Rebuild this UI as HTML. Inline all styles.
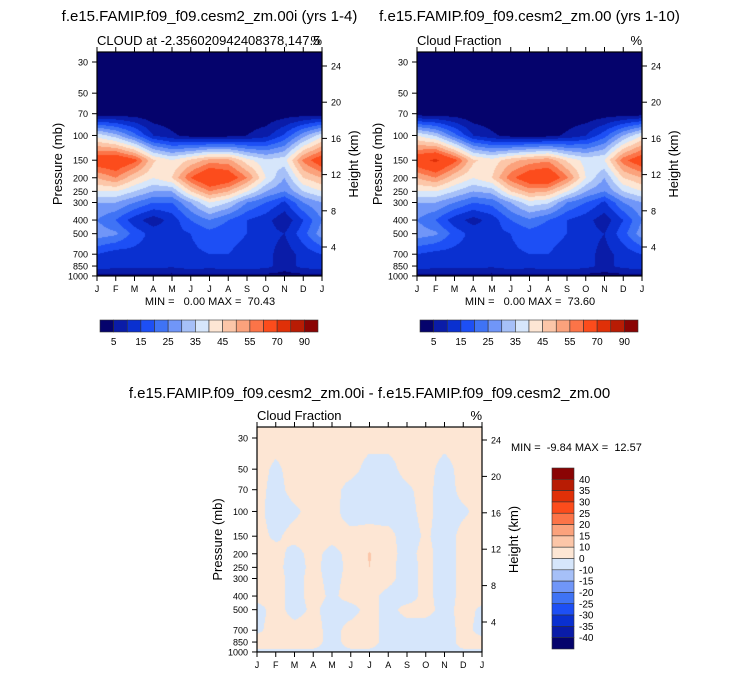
<!DOCTYPE html>
<html><head><meta charset="utf-8"><style>
body{margin:0;background:#fff;width:733px;height:675px;overflow:hidden;position:relative;font-family:"Liberation Sans",sans-serif}
canvas{position:absolute;left:0;top:0}
svg{position:absolute;left:0;top:0}
</style></head><body>
<canvas id="cv" width="733" height="675"></canvas>
<svg id="sv" width="733" height="675"></svg>
<script>
const months=['J','F','M','A','M','J','J','A','S','O','N','D','J'];
const levels=[30,50,70,100,150,200,250,300,400,500,700,850,1000];
const heightTicks=[24,20,16,12,8,4];
const colors=['#05036c','#0a1ca8','#0a30d0','#1d4ff5','#3f73f5','#7096f8','#a6c0f8','#d6e6fb','#fde6d4','#fcc6a8','#fba27c','#fc7448','#fc4c1c','#e03008','#b81c04','#8a0404'];
const bndAbs=[5,10,15,20,25,30,35,40,45,50,55,60,70,80,90];
const bndDiff=[-40,-35,-30,-25,-20,-15,-10,0,10,15,20,25,30,35,40];
const cloud1=[
[1,1,1,1,1,1,1,1,1,1,1,1,1],
[1,1,1,1,1,1,1,1,1,1,1,1,1],
[2,2,2,1,1,1,1,1,1,1,2,2,2],
[38,32,22,10,6,3,2,3,5,8,16,28,38],
[66,68,62,46,40,46,52,52,42,36,38,56,66],
[50,55,46,40,45,60,70,66,55,40,30,45,50],
[40,40,35,30,30,45,55,50,40,30,25,35,40],
[30,30,25,20,20,30,40,35,25,20,14,25,30],
[25,20,12,7,12,20,25,20,15,12,6,15,25],
[28,26,18,13,13,15,18,16,15,12,10,18,28],
[15,12,13,13,12,14,15,15,14,12,7,12,15],
[13,12,12,12,11,13,12,13,13,12,7,12,13],
[3,3,3,3,3,3,3,3,3,3,3,3,3]];
const cloud2=[
[1,1,1,1,1,1,1,1,1,1,1,1,1],
[1,1,1,1,1,1,1,1,1,1,1,1,1],
[2,2,2,1,1,1,1,1,1,1,2,2,2],
[40,34,22,10,6,3,2,3,6,10,18,30,40],
[66,72,62,46,42,48,52,54,44,38,40,58,66],
[50,55,46,40,45,58,66,68,56,40,30,45,50],
[40,40,35,30,32,45,52,50,40,30,25,35,40],
[30,30,25,20,22,30,38,36,25,20,14,25,30],
[25,20,12,8,12,20,24,20,15,12,7,15,25],
[28,26,18,13,13,15,18,16,15,12,10,18,28],
[15,13,13,13,12,14,15,15,14,12,8,12,15],
[13,12,12,12,11,13,12,13,13,12,8,12,13],
[3,3,3,3,3,3,3,3,3,3,3,3,3]];
const diffv=[
[2,2,2,2,2,2,2,2,2,2,2,2,2],
[2,-1,2,2,2,2,-2,-2,2,2,-2,2,2],
[2,-2,2,2,2,-2,-3,-3,-1,2,-3,2,2],
[2,-3,-1,2,2,-3,-2,-3,-2,2,-3,-1,2],
[2,-1,2,2,2,2,2,2,-3,1,-3,2,2],
[2,2,-2,2,-2,2,11,2,-2,2,-3,2,2],
[2,2,-3,2,-3,2,10,2,-3,2,-3,2,2],
[2,2,-2,2,-2,2,4,2,-3,2,-3,2,2],
[2,2,-2,2,-1,2,2,-2,-3,2,-3,2,2],
[-2,2,-2,1,-2,-2,2,-2,2,2,-2,2,-1],
[-1,2,2,2,-2,2,2,-2,-3,-3,-3,2,-2],
[2,2,2,2,-2,2,2,-2,-3,-3,-3,2,2],
[-1,-1,-1,-1,-1,-1,-1,-1,-1,-1,-1,-1,-1]];

const NS='http://www.w3.org/2000/svg';
const sv=document.getElementById('sv');
const ctx=document.getElementById('cv').getContext('2d');
function el(tag,attrs,txt){const e=document.createElementNS(NS,tag);for(const k in attrs)e.setAttribute(k,attrs[k]);if(txt!==undefined)e.textContent=txt;sv.appendChild(e);return e;}
function hex(c){return [parseInt(c.slice(1,3),16),parseInt(c.slice(3,5),16),parseInt(c.slice(5,7),16)];}
const rgb=colors.map(hex);
const DEC=140.5;
function yOf(p,y30){return y30+(Math.log10(p)-Math.log10(30))*DEC;}
function colorIdx(v,b){let i=0;while(i<b.length&&v>=b[i])i++;return i;}

function panel(c){
  const x0=c.x0,x1=c.x1,y30=c.y30,top=c.top,bot=yOf(1000,y30);
  const mx=m=>x0+m*(x1-x0)/12;
  const ly=levels.map(p=>yOf(p,y30));
  const W=Math.round(x1-x0),H=Math.round(bot-top);
  const img=ctx.createImageData(W,H);
  for(let j=0;j<H;j++){
    const y=top+j+0.5;
    let k=0;while(k<ly.length-2&&y>ly[k+1])k++;
    let ty=(y-ly[k])/(ly[k+1]-ly[k]);ty=Math.max(0,Math.min(1,ty));
    for(let i=0;i<W;i++){
      const fx=(i+0.5)/W*12;let m=Math.min(11,Math.floor(fx));const tx=fx-m;
      const d=c.data;
      const v=(d[k][m]*(1-tx)+d[k][m+1]*tx)*(1-ty)+(d[k+1][m]*(1-tx)+d[k+1][m+1]*tx)*ty;
      const col=rgb[colorIdx(v,c.bnd)];const o=(j*W+i)*4;
      img.data[o]=col[0];img.data[o+1]=col[1];img.data[o+2]=col[2];img.data[o+3]=255;
    }
  }
  ctx.putImageData(img,Math.round(x0),Math.round(top));
  let r=el('rect',{x:x0,y:top,width:x1-x0,height:bot-top,fill:'none',stroke:'#000','stroke-width':1.2});
  
  levels.forEach((p,i)=>{const y=yOf(p,y30);
    el('line',{x1:x0-5,x2:x0,y1:y,y2:y,stroke:'#000'});
    const t=el('text',{x:x0-9,y:y+3.5,'font-size':9,'text-anchor':'end'},p);
    });
  heightTicks.forEach(h=>{const y=c.hy(h);
    el('line',{x1:x1,x2:x1+5,y1:y,y2:y,stroke:'#000'});
    const t=el('text',{x:x1+9,y:y+3.5,'font-size':9},h);
    });
  months.forEach((m,i)=>{const x=mx(i);
    el('line',{x1:x,x2:x,y1:bot,y2:bot+5,stroke:'#000'});
    el('line',{x1:x,x2:x,y1:top,y2:top-5,stroke:'#000'});
    const t=el('text',{x:x,y:bot+16,'font-size':9,'text-anchor':'middle'},m);
    });
  let t=el('text',{x:x0-35,y:(top+bot)/2,'font-size':13,'text-anchor':'middle',transform:`rotate(-90 ${x0-35} ${(top+bot)/2})`},'Pressure (mb)');
  
  t=el('text',{x:x1+36,y:(top+bot)/2,'font-size':13,'text-anchor':'middle',transform:`rotate(-90 ${x1+36} ${(top+bot)/2})`},'Height (km)');
  
  t=el('text',{x:x0,y:top-7,'font-size':13},c.sub);
  
  t=el('text',{x:x1,y:top-7,'font-size':13,'text-anchor':'end'},'%');
  
  t=el('text',{x:(x0+x1)/2,y:c.tY,'font-size':15,'text-anchor':'middle'},c.title);
  
}
function hyTop(h){return 66+(24-h)*(247-66)/20;}
panel({id:'panel1',x0:97,x1:322,y30:62,top:52,data:cloud1,bnd:bndAbs,hy:hyTop,sub:'CLOUD at -2.356020942408378,147.5',title:'f.e15.FAMIP.f09_f09.cesm2_zm.00i (yrs 1-4)',tY:21});
panel({id:'panel2',x0:417,x1:642,y30:62,top:52,data:cloud2,bnd:bndAbs,hy:hyTop,sub:'Cloud Fraction',title:'f.e15.FAMIP.f09_f09.cesm2_zm.00 (yrs 1-10)',tY:21});
panel({id:'panel3',x0:257,x1:482,y30:438,top:427,data:diffv,bnd:bndDiff,hy:h=>440+(24-h)*(622-440)/20,sub:'Cloud Fraction',title:'f.e15.FAMIP.f09_f09.cesm2_zm.00i - f.e15.FAMIP.f09_f09.cesm2_zm.00',tY:398});

function stats(x,y,s,anchor){const t=el('text',{x:x,y:y,'font-size':11,'text-anchor':anchor},s.replace(/ /g,'\u00a0'));
  }
stats(210,305,'MIN =   0.00 MAX =  70.43','middle');
stats(530,305,'MIN =   0.00 MAX =  73.60','middle');
stats(511,451,'MIN =  -9.84 MAX =  12.57','start');

const hLabels=['5','15','25','35','45','55','70','90'];
function hbar(x,y,w,h,name){const bw=w/16;
  colors.forEach((c,i)=>{const r=el('rect',{x:x+i*bw,y:y,width:bw,height:h,fill:c,stroke:'#333','stroke-width':0.6});
    });
  hLabels.forEach((l,i)=>{const t=el('text',{x:x+(2*i+1)*bw,y:y+h+13,'font-size':10,'text-anchor':'middle'},l);
    });}
hbar(100,320,218,12,'colorbar-left');
hbar(420,320,218,12,'colorbar-right');
const vLabels=['40','35','30','25','20','15','10','0','-10','-15','-20','-25','-30','-35','-40'];
(function(){const x=552,y=468,w=22,h=181,bh=h/16;
  colors.slice().reverse().forEach((c,i)=>{const r=el('rect',{x:x,y:y+i*bh,width:w,height:bh,fill:c,stroke:'#333','stroke-width':0.6});
    });
  vLabels.forEach((l,i)=>{const t=el('text',{x:x+w+5,y:y+(i+1)*bh+3.5,'font-size':10},l);
    });})();
</script>
</body></html>
